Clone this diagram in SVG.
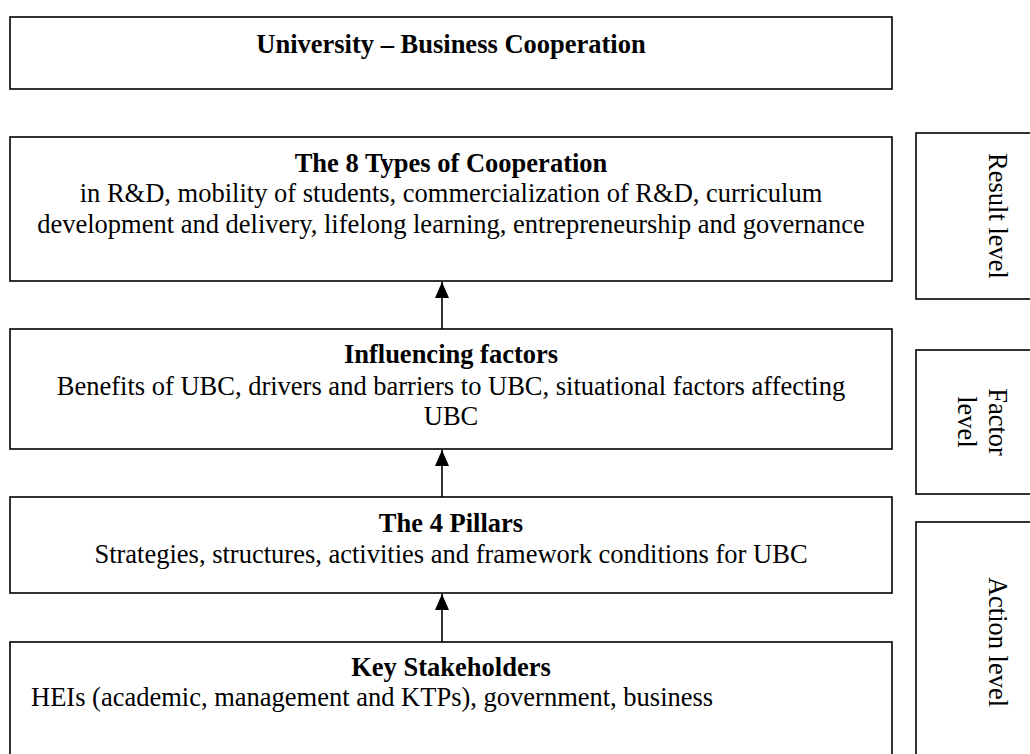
<svg xmlns="http://www.w3.org/2000/svg" width="1030" height="754" viewBox="0 0 1030 754">
<style>
.box{fill:#fff;stroke:#000;stroke-width:1.6}
.t{font-family:"Liberation Serif","Times New Roman",serif;font-size:26.5px;fill:#000}
.b{font-weight:bold}
.conn{stroke:#000;stroke-width:1.6;fill:none}
</style>
<defs>
<marker id="ah" viewBox="0 0 16 14" refX="16" refY="7" markerWidth="16" markerHeight="14" markerUnits="userSpaceOnUse" orient="auto">
<path d="M0,0 L16,7 L0,14 Z" fill="#000"/>
</marker>
</defs>
<rect width="1030" height="754" fill="#fff"/>
<g id="ubc">
<rect class="box" x="10" y="17" width="882" height="72"/>
<text class="t b" x="451" y="53" text-anchor="middle">University – Business Cooperation</text>
</g>
<g id="types">
<rect class="box" x="10" y="137" width="882" height="144"/>
<text class="t b" x="451" y="172" text-anchor="middle">The 8 Types of Cooperation</text>
<text class="t" x="451" y="202" text-anchor="middle">in R&amp;D, mobility of students, commercialization of R&amp;D, curriculum</text>
<text class="t" x="451" y="233" text-anchor="middle">development and delivery, lifelong learning, entrepreneurship and governance</text>
</g>
<g id="factors">
<rect class="box" x="10" y="329" width="882" height="120"/>
<text class="t b" x="451" y="363" text-anchor="middle">Influencing factors</text>
<text class="t" x="451" y="395" text-anchor="middle">Benefits of UBC, drivers and barriers to UBC, situational factors affecting</text>
<text class="t" x="451" y="425" text-anchor="middle">UBC</text>
</g>
<g id="pillars">
<rect class="box" x="10" y="497" width="882" height="96"/>
<text class="t b" x="451" y="532" text-anchor="middle">The 4 Pillars</text>
<text class="t" x="451" y="563" text-anchor="middle">Strategies, structures, activities and framework conditions for UBC</text>
</g>
<g id="stakeholders">
<rect class="box" x="10" y="642" width="882" height="130"/>
<text class="t b" x="451" y="676" text-anchor="middle">Key Stakeholders</text>
<text class="t" x="31" y="706">HEIs (academic, management and KTPs), government, business</text>
</g>
<g id="result-level">
<rect class="box" x="916" y="133" width="130" height="166"/>
<text class="t" transform="translate(989,216) rotate(90)" text-anchor="middle">Result level</text>
</g>
<g id="factor-level">
<rect class="box" x="916" y="350" width="130" height="144"/>
<text class="t" transform="translate(989,422) rotate(90)" text-anchor="middle">Factor</text>
<text class="t" transform="translate(958,422) rotate(90)" text-anchor="middle">level</text>
</g>
<g id="action-level">
<rect class="box" x="916" y="522" width="130" height="250"/>
<text class="t" transform="translate(989,642) rotate(90)" text-anchor="middle">Action level</text>
</g>
<g id="connectors">
<line class="conn" x1="442" y1="329" x2="442" y2="282" marker-end="url(#ah)"/>
<line class="conn" x1="442" y1="497" x2="442" y2="450" marker-end="url(#ah)"/>
<line class="conn" x1="442" y1="642" x2="442" y2="594" marker-end="url(#ah)"/>
</g>
</svg>
